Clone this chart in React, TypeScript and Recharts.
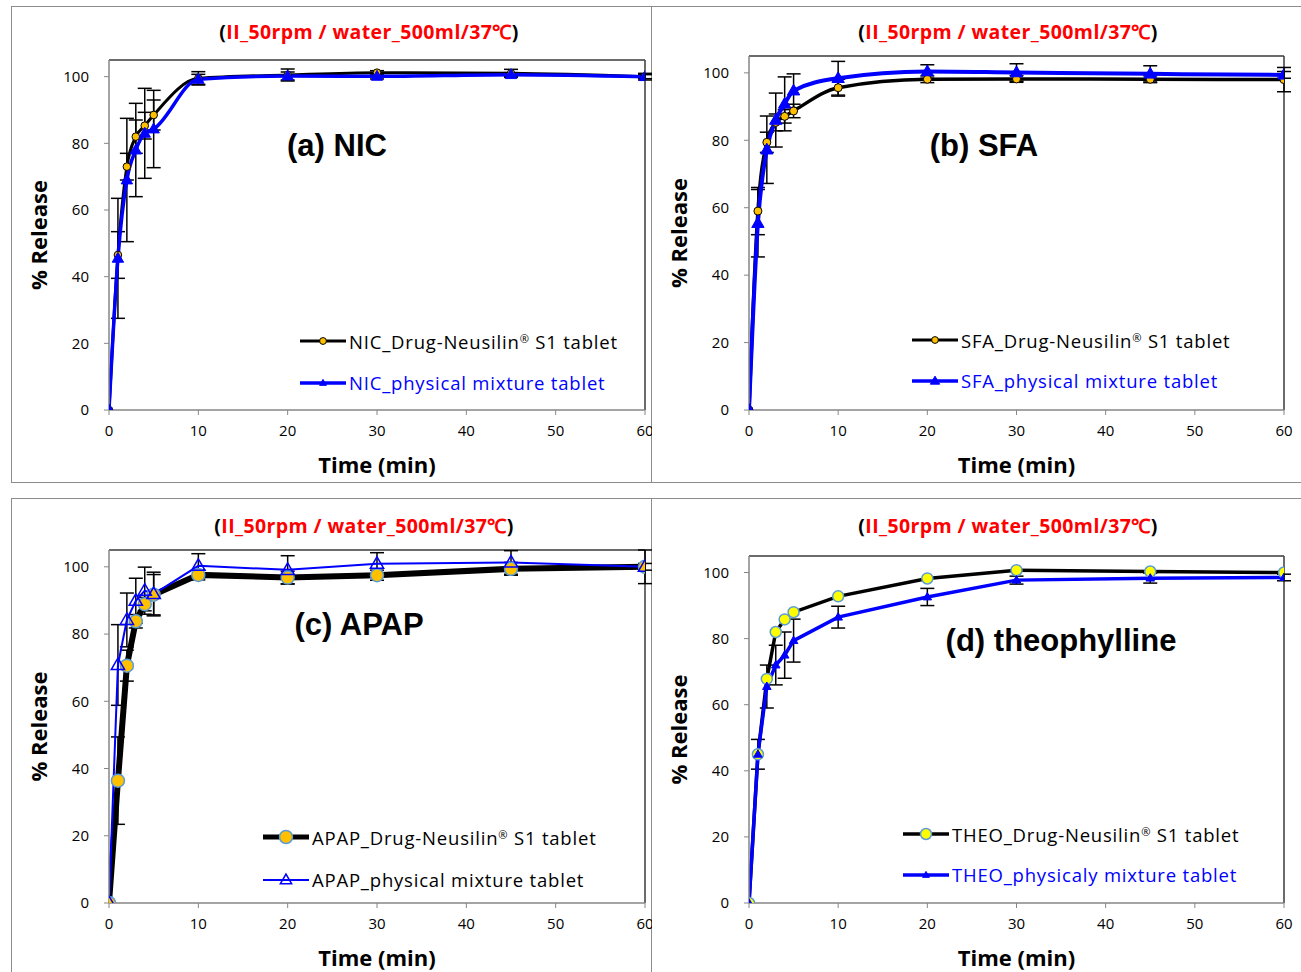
import React from 'react';
import { LineChart, Line, XAxis, YAxis, ErrorBar, ReferenceLine, Legend, Label } from 'recharts';

const TIME = [0, 1, 2, 3, 4, 5, 10, 20, 30, 45, 60];
const X_TICKS = [0, 10, 20, 30, 40, 50, 60];
const Y_TICKS = [0, 20, 40, 60, 80, 100];
const HEADER_INNER = 'II_50rpm / water_500ml/37℃';
const X_LABEL = 'Time (min)';
const Y_LABEL = '% Release';

const NIC_DRUG = [0, 46.5, 73, 82, 85.3, 88.5, 99.5, 100.5, 101.2, 101, 100];
const NIC_DRUG_ERR = [0, 7, 4, 5, 4, 4.5, 2, 1.8, 0.6, 1.2, 0.6];
const NIC_PHYS = [0, 45.5, 69, 78, 83, 84.3, 99.2, 100.2, 100.1, 100.6, 100];
const NIC_PHYS_ERR = [0, 18, 18.5, 14, 13.5, 11.6, 1.5, 1.2, 0.8, 0.6, 1];

const SFA_DRUG = [0, 59, 79.4, 85.3, 87.1, 88.7, 95.6, 98.1, 98.2, 98.1, 98];
const SFA_DRUG_ERR = [0, 7, 3, 2.5, 2, 2, 2.5, 1, 1, 1, 3.6];
const SFA_PHYS = [0, 55.4, 77.2, 86, 90.8, 94.7, 98.4, 100.4, 100.1, 99.7, 99.4];
const SFA_PHYS_ERR = [0, 10, 10, 8, 8, 5, 5, 2, 2.6, 2.4, 1];

const APAP_DRUG = [0, 36.4, 70.6, 83.8, 88.9, 91.7, 97.6, 96.8, 97.5, 99.4, 100];
const APAP_DRUG_ERR = [0, 13, 4.6, 2, 2, 6, 1.5, 1.9, 1.5, 1.9, 5];
const APAP_PHYS = [0, 70.8, 84.2, 89.9, 92.9, 91.9, 100.3, 99.1, 100.9, 101.3, 100];
const APAP_PHYS_ERR = [0, 12, 8, 6.7, 7, 6.5, 3.6, 4.2, 3.3, 3.5, 1];

const THEO_DRUG = [0, 45, 67.8, 82, 85.8, 88, 92.8, 98.2, 100.7, 100.3, 100];
const THEO_PHYS = [0, 45, 65.5, 72, 75, 79.4, 86.5, 92.6, 97.7, 98.3, 98.5];
const THEO_PHYS_ERR = [0, 4.5, 6.5, 6, 7, 6.5, 3.3, 2.6, 1.2, 1.5, 1];

const NAMES = {
  a: ['NIC_Drug-Neusilin® S1 tablet', 'NIC_physical mixture tablet'],
  b: ['SFA_Drug-Neusilin® S1 tablet', 'SFA_physical mixture tablet'],
  c: ['APAP_Drug-Neusilin® S1 tablet', 'APAP_physical mixture tablet'],
  d: ['THEO_Drug-Neusilin® S1 tablet', 'THEO_physicaly mixture tablet'],
};
const TITLES = { a: '(a) NIC', b: '(b) SFA', c: '(c) APAP', d: '(d) theophylline' };

const build = (drug: number[], drugErr: number[] | null, phys: number[], physErr: number[]) =>
  TIME.map((t, i) => ({
    t,
    drug: drug[i],
    drugErr: drugErr ? drugErr[i] : 0,
    phys: phys[i],
    physErr: physErr[i],
  }));

const SANS = '"Open Sans", sans-serif';
const ARIAL = '"Liberation Sans", Arial, sans-serif';
const GRAY = '#868686';

type MarkerCfg = { kind: 'circle' | 'tri'; size: number; fill: string; stroke: string; sw: number };

const drawMarker = (m: MarkerCfg, cx: number, cy: number, key?: string, scale = 1) => {
  if (m.kind === 'circle') {
    return <circle key={key} cx={cx} cy={cy} r={m.size * scale} fill={m.fill} stroke={m.stroke} strokeWidth={m.sw} />;
  }
  const s = m.size * scale;
  const d = `M${cx},${cy - s} L${cx + s * 0.95},${cy + s * 0.65} L${cx - s * 0.95},${cy + s * 0.65} Z`;
  return <path key={key} d={d} fill={m.fill} stroke={m.stroke} strokeWidth={m.sw} strokeLinejoin="miter" />;
};

const dotFn = (m: MarkerCfg, prefix: string) => (props: any) => {
  const { cx, cy, index } = props;
  if (cx == null || cy == null) return <g key={`${prefix}-${index}`} />;
  return drawMarker(m, cx, cy, `${prefix}-${index}`);
};

type SeriesCfg = { color: string; width: number; curve: 'monotone' | 'linear'; marker: MarkerCfg; textColor: string; legendWidth: number; legendScale: number };

type PanelCfg = {
  id: 'a' | 'b' | 'c' | 'd';
  left: number; top: number; w: number; h: number;
  plot: { x0: number; y0: number; x1: number; y1: number };
  data: any[];
  drug: SeriesCfg; phys: SeriesCfg;
  drugErr: boolean;
  headerX: number; headerY: number;
  titleX: number; titleY: number;
  legX: number; legY1: number; legY2: number;
  xLabelY: number; yLabelX: number;
};

const PANELS: PanelCfg[] = [
  {
    id: 'a', left: 12, top: 7, w: 640, h: 476,
    plot: { x0: 109, y0: 60, x1: 645, y1: 410 },
    data: build(NIC_DRUG, NIC_DRUG_ERR, NIC_PHYS, NIC_PHYS_ERR),
    drug: { color: '#000', width: 3, curve: 'monotone', marker: { kind: 'circle', size: 3.8, fill: '#FFC000', stroke: '#000', sw: 1 }, textColor: '#000', legendWidth: 3, legendScale: 0.9 },
    phys: { color: '#0000FF', width: 3.5, curve: 'monotone', marker: { kind: 'tri', size: 6, fill: '#0000FF', stroke: '#0000FF', sw: 1 }, textColor: '#0000FF', legendWidth: 3.5, legendScale: 0.6 },
    drugErr: true,
    headerX: 369, headerY: 32, titleX: 337, titleY: 146,
    legX: 300, legY1: 341, legY2: 383, xLabelY: 464, yLabelX: 38,
  },
  {
    id: 'b', left: 652, top: 7, w: 649, h: 476,
    plot: { x0: 749, y0: 56, x1: 1284, y1: 410 },
    data: build(SFA_DRUG, SFA_DRUG_ERR, SFA_PHYS, SFA_PHYS_ERR),
    drug: { color: '#000', width: 3.5, curve: 'monotone', marker: { kind: 'circle', size: 4, fill: '#FFC000', stroke: '#000', sw: 1 }, textColor: '#000', legendWidth: 3, legendScale: 0.85 },
    phys: { color: '#0000FF', width: 4, curve: 'monotone', marker: { kind: 'tri', size: 6.5, fill: '#0000FF', stroke: '#0000FF', sw: 1 }, textColor: '#0000FF', legendWidth: 3.5, legendScale: 0.75 },
    drugErr: true,
    headerX: 1008, headerY: 32, titleX: 984, titleY: 146,
    legX: 912, legY1: 340, legY2: 381, xLabelY: 464, yLabelX: 678,
  },
  {
    id: 'c', left: 12, top: 499, w: 640, h: 473,
    plot: { x0: 109, y0: 550, x1: 645, y1: 903 },
    data: build(APAP_DRUG, APAP_DRUG_ERR, APAP_PHYS, APAP_PHYS_ERR),
    drug: { color: '#000', width: 6, curve: 'linear', marker: { kind: 'circle', size: 6.5, fill: '#FFC000', stroke: '#5B9BD5', sw: 1.5 }, textColor: '#000', legendWidth: 5, legendScale: 1 },
    phys: { color: '#0000FF', width: 2, curve: 'linear', marker: { kind: 'tri', size: 7, fill: 'none', stroke: '#0000FF', sw: 1.5 }, textColor: '#000', legendWidth: 2, legendScale: 0.85 },
    drugErr: true,
    headerX: 364, headerY: 526, titleX: 359, titleY: 625,
    legX: 263, legY1: 837, legY2: 880, xLabelY: 957, yLabelX: 38,
  },
  {
    id: 'd', left: 652, top: 499, w: 649, h: 473,
    plot: { x0: 749, y0: 556, x1: 1284, y1: 903 },
    data: build(THEO_DRUG, null, THEO_PHYS, THEO_PHYS_ERR),
    drug: { color: '#000', width: 3.5, curve: 'linear', marker: { kind: 'circle', size: 5.5, fill: '#FFFF00', stroke: '#5B9BD5', sw: 1.5 }, textColor: '#000', legendWidth: 3.5, legendScale: 1 },
    phys: { color: '#0000FF', width: 3.5, curve: 'linear', marker: { kind: 'tri', size: 4.5, fill: '#0000FF', stroke: '#0000FF', sw: 1 }, textColor: '#0000FF', legendWidth: 3.5, legendScale: 0.8 },
    drugErr: false,
    headerX: 1008, headerY: 526, titleX: 1061, titleY: 641,
    legX: 903, legY1: 834, legY2: 875, xLabelY: 957, yLabelX: 678,
  },
];

const YW = 60;
const XH = 64;

const renderName = (name: string) => {
  const parts = name.split('®');
  if (parts.length === 1) return name;
  return (
    <>
      {parts[0]}
      <span style={{ fontSize: '0.6em', verticalAlign: '0.55em' }}>®</span>
      {parts[1]}
    </>
  );
};

function LegendBox({ p }: { p: PanelCfg }) {
  const names = NAMES[p.id];
  const rows = [
    { s: p.drug, name: names[0] },
    { s: p.phys, name: names[1] },
  ];
  return (
    <div>
      {rows.map((r, i) => (
        <div key={i} style={{ display: 'flex', alignItems: 'center', height: 26, marginTop: i === 0 ? 0 : p.legY2 - p.legY1 - 26 }}>
          <svg width={47} height={26} style={{ display: 'block' }}>
            <line x1={0} y1={13} x2={46} y2={13} stroke={r.s.color} strokeWidth={r.s.legendWidth} />
            {drawMarker(r.s.marker, 23, 13, undefined, r.s.legendScale)}
          </svg>
          <span style={{ marginLeft: 2, fontFamily: SANS, fontSize: 18.5, letterSpacing: 0.8, color: r.s.textColor, whiteSpace: 'nowrap', lineHeight: '26px' }}>{renderName(r.name)}</span>
        </div>
      ))}
    </div>
  );
}

function Panel({ p }: { p: PanelCfg }) {
  const margin = {
    left: p.plot.x0 - p.left - YW,
    top: p.plot.y0 - p.top,
    right: p.left + p.w - p.plot.x1,
    bottom: p.top + p.h - p.plot.y1 - XH,
  };
  const lx = (v: number) => v - p.left;
  const ly = (v: number) => v - p.top;
  const plotCy = (p.plot.y0 + p.plot.y1) / 2;
  const plotCx = (p.plot.x0 + p.plot.x1) / 2;
  return (
    <div style={{ position: 'absolute', left: p.left, top: p.top, width: p.w, height: p.h }}>
      <LineChart width={p.w} height={p.h} data={p.data} margin={margin}>
        <XAxis
          type="number" dataKey="t" domain={[0, 60]} ticks={X_TICKS} interval={0} allowDataOverflow
          height={XH} tickSize={5} tickMargin={10}
          axisLine={{ stroke: GRAY, strokeWidth: 1.5 }} tickLine={{ stroke: GRAY, strokeWidth: 1 }}
          tick={{ fill: '#000', fontSize: 15, fontFamily: SANS }}
        >
          <Label
            content={() => (
              <text x={lx(plotCx)} y={ly(p.xLabelY)} textAnchor="middle" dominantBaseline="central" fontFamily={SANS} fontWeight="bold" fontSize={22} fill="#000">
                {X_LABEL}
              </text>
            )}
          />
        </XAxis>
        <YAxis
          type="number" domain={[0, 105]} ticks={Y_TICKS} interval={0} allowDataOverflow
          width={YW} tickSize={5} tickMargin={15}
          axisLine={{ stroke: GRAY, strokeWidth: 1.5 }} tickLine={{ stroke: GRAY, strokeWidth: 1 }}
          tick={{ fill: '#000', fontSize: 15, fontFamily: SANS }}
        >
          <Label
            content={() => (
              <text x={lx(p.yLabelX)} y={ly(plotCy)} textAnchor="middle" dominantBaseline="central" fontFamily={SANS} fontWeight="bold" fontSize={22} fill="#000" transform={`rotate(-90 ${lx(p.yLabelX)} ${ly(plotCy)})`}>
                {Y_LABEL}
              </text>
            )}
          />
        </YAxis>
        <ReferenceLine y={105} stroke="#3a3a3a" strokeWidth={1.5} />
        <ReferenceLine x={60} stroke="#3a3a3a" strokeWidth={1.5} />
        <Line
          type={p.drug.curve} dataKey="drug" stroke={p.drug.color} strokeWidth={p.drug.width}
          dot={dotFn(p.drug.marker, `${p.id}-drug`)} activeDot={false} isAnimationActive={false}
        >
          {p.drugErr && <ErrorBar dataKey="drugErr" width={7} stroke="#000" strokeWidth={1.5} direction="y" />}
        </Line>
        <Line
          type={p.phys.curve} dataKey="phys" stroke={p.phys.color} strokeWidth={p.phys.width}
          dot={dotFn(p.phys.marker, `${p.id}-phys`)} activeDot={false} isAnimationActive={false}
        >
          <ErrorBar dataKey="physErr" width={7} stroke="#000" strokeWidth={1.5} direction="y" />
        </Line>
        <Legend
          layout="vertical" align="center" verticalAlign="middle"
          wrapperStyle={{ left: lx(p.legX), top: ly(p.legY1) - 13, width: 380, height: 'auto' }}
          content={() => <LegendBox p={p} />}
        />
      </LineChart>
      <div style={{ position: 'absolute', left: lx(p.headerX) - 250, width: 500, top: ly(p.headerY) - 14, height: 28, lineHeight: '28px', textAlign: 'center', fontFamily: SANS, fontWeight: 'bold', fontSize: 19.5, letterSpacing: 0.4, color: '#000', whiteSpace: 'nowrap' }}>
        (<span style={{ color: '#FF0000' }}>{HEADER_INNER}</span>)
      </div>
      <div style={{ position: 'absolute', left: lx(p.titleX) - 200, width: 400, top: ly(p.titleY) - 20, height: 40, lineHeight: '40px', textAlign: 'center', fontFamily: ARIAL, fontWeight: 'bold', fontSize: 31, color: '#000', whiteSpace: 'nowrap' }}>
        {TITLES[p.id]}
      </div>
    </div>
  );
}

const BORDER = '1.5px solid #8c8c8c';

export default function App() {
  return (
    <div style={{ position: 'absolute', left: 0, top: 0, width: 1301, height: 972, overflow: 'hidden', background: '#fff' }}>
      <div style={{ position: 'absolute', left: 11, top: 6, width: 641, height: 477, border: BORDER, boxSizing: 'border-box' }} />
      <div style={{ position: 'absolute', left: 651, top: 6, width: 700, height: 477, border: BORDER, boxSizing: 'border-box' }} />
      <div style={{ position: 'absolute', left: 11, top: 498, width: 641, height: 520, border: BORDER, boxSizing: 'border-box' }} />
      <div style={{ position: 'absolute', left: 651, top: 498, width: 700, height: 520, border: BORDER, boxSizing: 'border-box' }} />
      {PANELS.map((p) => (
        <Panel key={p.id} p={p} />
      ))}
    </div>
  );
}
